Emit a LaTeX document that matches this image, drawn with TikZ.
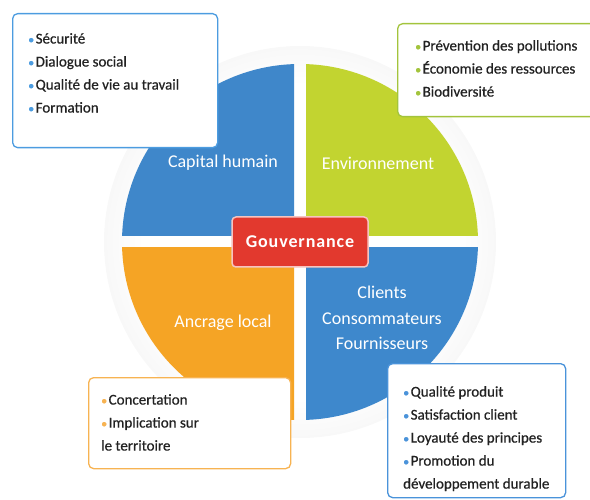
\documentclass[tikz,border=0pt]{standalone}
\usepackage{fontspec}
\setmainfont{Carlito}
\usetikzlibrary{calc}
\definecolor{humblue}{HTML}{3F87CA}
\definecolor{envgreen}{HTML}{C2D430}
\definecolor{ancorange}{HTML}{F5A425}
\definecolor{cliblue}{HTML}{3E88CC}
\definecolor{govred}{HTML}{E2392E}
\definecolor{listtext}{HTML}{222222}
\definecolor{humline}{HTML}{4C9CE0}
\definecolor{envline}{HTML}{A3C43C}
\definecolor{ancline}{HTML}{F7B352}
\definecolor{cliline}{HTML}{4A93DA}
\pgfdeclareradialshading{halo}{\pgfpoint{0bp}{0bp}}{color(0bp)=(white); color(20bp)=(white); color(40bp)=(black!11); color(50bp)=(black!12)}
\def\Puce#1{{\color{#1}\fontsize{12}{12}\selectfont\textbullet}\hspace{1.5pt}}
\def\Quarter#1#2#3{%
 \begin{scope}
  \clip ($(centre)+(#2*\gap,#3*\gap)$) rectangle +(#2*200,#3*200);
  \fill[#1] (centre) circle[radius=\radius];
 \end{scope}
}
\def\InfoBox#1#2#3#4#5#6#7{%
 \node[info box, draw=#2, minimum width=#4, minimum height=#5] (#1 box) at (#3) {};
 \node[info list] (#1 list) at (#6) {#7};
}

\begin{document}
\begin{tikzpicture}[x=1pt, y=-1pt,
  info box/.style={anchor=north west, rectangle, rounded corners=5pt, line width=1.3pt, fill=white},
  info list/.style={anchor=north west, inner sep=0pt, align=left, text=listtext,
        font=\fontsize{15}{23}\selectfont\addfontfeature{FakeBold=0.6}},
  part label/.style={text=white, align=center, font=\fontsize{18}{25.5}\selectfont},
  gov box/.style={fill=govred, draw=govred!30, line width=1.5pt, rounded corners=4pt,
        minimum width=136pt, minimum height=50pt, text=white,
        font=\fontsize{18}{18}\selectfont\bfseries\addfontfeature{LetterSpace=5}}]
\clip (0,0) rectangle (590,500);
\def\radius{178}\def\gap{6}
\coordinate (centre) at (300,242);
\shade[shading=halo] (centre) circle[radius=196];
\Quarter{humblue}{-1}{-1}
\Quarter{envgreen}{1}{-1}
\Quarter{ancorange}{-1}{1}
\Quarter{cliblue}{1}{1}
\node[part label] (hum) at (223,163) {Capital humain};
\node[part label] (env) at (378,163) {Environnement};
\node[part label] (anc) at (223,323) {Ancrage local};
\node[part label] (cli) at (382,318) {Clients\\Consommateurs\\Fournisseurs};
\node[gov box] (gov) at (centre) {Gouvernance};
\InfoBox{hum}{humline}{12,13}{205pt}{134pt}{28,33}{\Puce{humline}Sécurité\\
  \Puce{humline}Dialogue social\\ \Puce{humline}Qualité de vie au travail\\
  \Puce{humline}Formation}
\InfoBox{env}{envline}{397,23}{210pt}{93pt}{415,40}{\Puce{envline}Prévention des pollutions\\
  \Puce{envline}Économie des ressources\\ \Puce{envline}Biodiversité}
\InfoBox{anc}{ancline}{88,377}{202pt}{91pt}{101,394}{\Puce{ancline}Concertation\\
  \Puce{ancline}Implication sur\\ le territoire}
\InfoBox{cli}{cliline}{387,363}{178pt}{134pt}{403,386}{\Puce{cliline}Qualité produit\\
  \Puce{cliline}Satisfaction client\\ \Puce{cliline}Loyauté des principes\\
  \Puce{cliline}Promotion du\\ développement durable}
\end{tikzpicture}
\end{document}
